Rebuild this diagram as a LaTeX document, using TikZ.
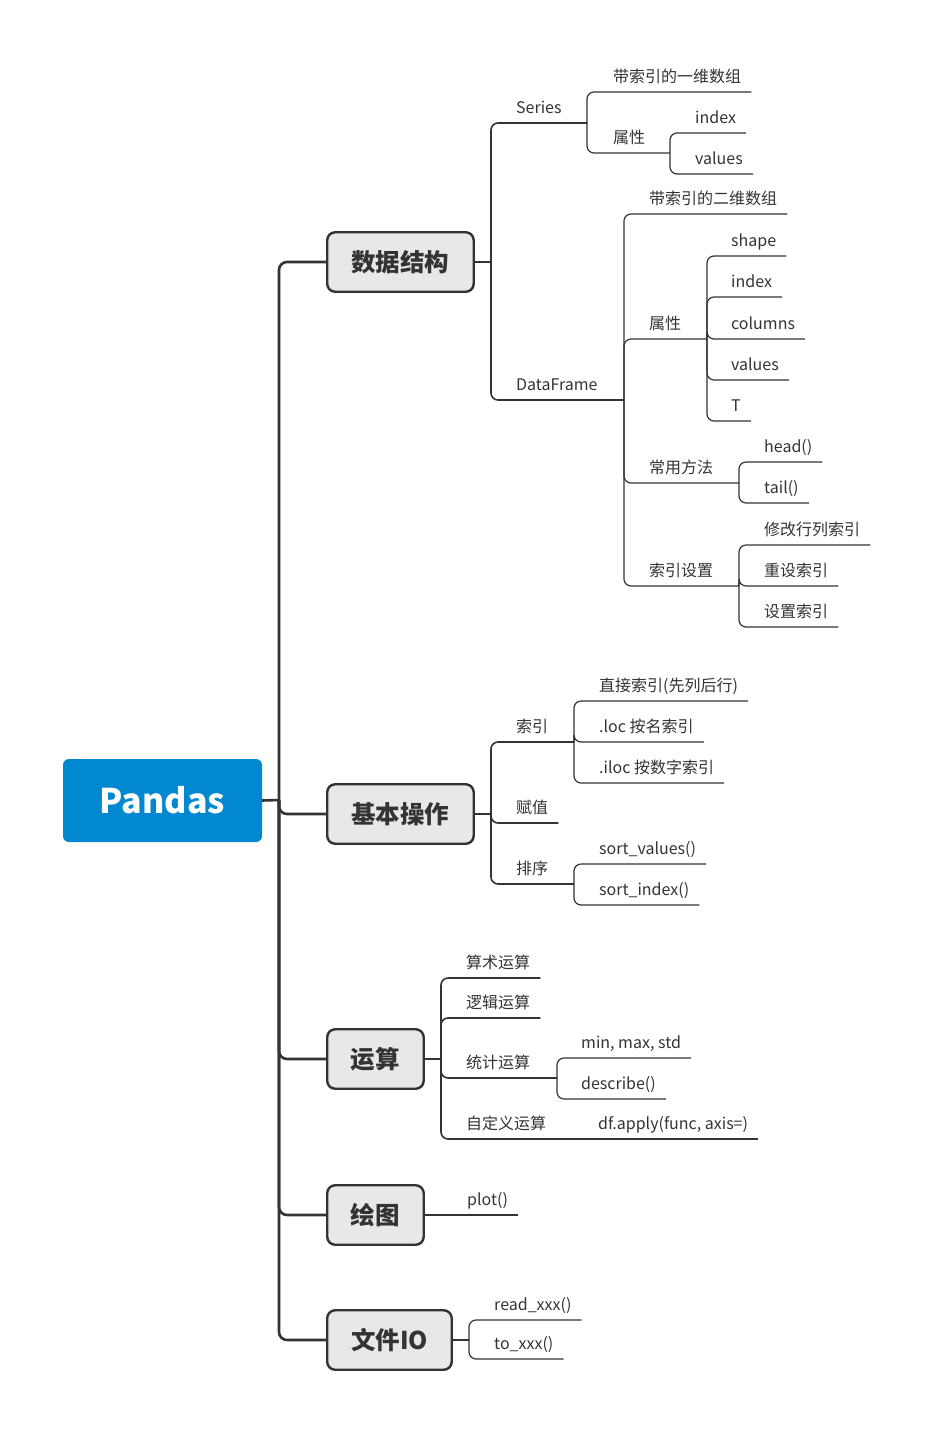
\documentclass[tikz,border=0pt]{standalone}
\usepackage{fontspec}
\setmainfont{Noto Sans CJK SC}
\definecolor{lineclr}{HTML}{333333}
\definecolor{boxfill}{HTML}{E8E8E8}
\definecolor{rootblue}{HTML}{0288D1}
\begin{document}
\begin{tikzpicture}[x=1pt, y=-1pt,
    rootbox/.style={fill=rootblue, rounded corners=6pt, minimum width=199pt, minimum height=83pt, text=white, font=\fontsize{34}{34}\selectfont\bfseries},
    topicbox/.style={draw=lineclr, line width=2.4pt, fill=boxfill, rounded corners=8pt, minimum height=59.5pt, anchor=west, text=lineclr, font=\fontsize{24.5}{24.5}\selectfont\bfseries},
    leaf/.style={anchor=south west, inner xsep=10pt, inner ysep=3pt, text height=12pt, text depth=6pt, text=lineclr, font=\fontsize{16}{16}\selectfont},
    trunk/.style={draw=lineclr, line width=2.6pt, rounded corners=8pt},
    branch/.style={draw=lineclr, line width=1.6pt, rounded corners=7pt},
    twig/.style={draw=lineclr, line width=1.2pt, rounded corners=7pt}]
    \useasboundingbox (0,0) rectangle (932,1433);

    \node[rootbox] (root) at (162.5,800.5){Pandas};
    \node[topicbox, minimum width=146.5pt] (ds) at (326,262){数据结构};
    \node[topicbox, minimum width=146.5pt] (op) at (326,814){基本操作};
    \node[topicbox, minimum width=96.5pt] (calc) at (326,1059){运算};
    \node[topicbox, minimum width=96.5pt] (plt) at (326,1215){绘图};
    \node[topicbox, minimum width=124.5pt] (fio) at (326,1340){文件IO};

    \coordinate (jroot) at (279,800);
    \coordinate (jds) at (491,262);
    \coordinate (jser) at (587,123);
    \coordinate (jserattr) at (670,153);
    \coordinate (jdf) at (624,400);
    \coordinate (jdfattr) at (707,339);
    \coordinate (jdfmeth) at (739,483);
    \coordinate (jdfidx) at (739,586);
    \coordinate (jop) at (491,814);
    \coordinate (jopidx) at (574,742);
    \coordinate (jopsort) at (574,884);
    \coordinate (jcalc) at (441,1059);
    \coordinate (jstat) at (557,1078);
    \coordinate (jcustom) at (573,1139);
    \coordinate (jplt) at (442,1215);
    \coordinate (jfio) at (469,1340);

    \node[leaf] (ser) at (506,123){Series};
    \node[leaf] (serdesc) at (603,92){带索引的一维数组};
    \node[leaf] (serattr) at (603,153){属性};
    \node[leaf] (serindex) at (685,133){index};
    \node[leaf] (servalues) at (685,174){values};
    \node[leaf] (df) at (506,400){DataFrame};
    \node[leaf] (dfdesc) at (639,214){带索引的二维数组};
    \node[leaf] (dfattr) at (639,339){属性};
    \node[leaf] (dfshape) at (721,256){shape};
    \node[leaf] (dfindex) at (721,297){index};
    \node[leaf] (dfcols) at (721,339){columns};
    \node[leaf] (dfvals) at (721,380){values};
    \node[leaf] (dfT) at (721,421){T};
    \node[leaf] (dfmeth) at (639,483){常用方法};
    \node[leaf] (dfhead) at (754,462){head()};
    \node[leaf] (dftail) at (754,503){tail()};
    \node[leaf] (dfidx) at (639,586){索引设置};
    \node[leaf] (dfren) at (754,545){修改行列索引};
    \node[leaf] (dfreset) at (754,586){重设索引};
    \node[leaf] (dfset) at (754,627){设置索引};

    \node[leaf] (opidx) at (506,742){索引};
    \node[leaf] (opassign) at (506,823){赋值};
    \node[leaf] (opsort) at (506,884){排序};
    \node[leaf] (idxdirect) at (589,701){直接索引(先列后行)};
    \node[leaf] (idxloc) at (589,742){.loc 按名索引};
    \node[leaf] (idxiloc) at (589,783){.iloc 按数字索引};
    \node[leaf] (sortval) at (589,864){sort\_values()};
    \node[leaf] (sortidx) at (589,905){sort\_index()};

    \node[leaf] (arith) at (456,978){算术运算};
    \node[leaf] (logic) at (456,1018){逻辑运算};
    \node[leaf] (stat) at (456,1078){统计运算};
    \node[leaf] (custom) at (456,1139){自定义运算};
    \node[leaf] (statmin) at (571,1058){min, max, std};
    \node[leaf] (statdesc) at (571,1099){describe()};
    \node[leaf] (apply) at (588,1139){df.apply(func, axis=)};

    \node[leaf] (plot) at (457,1215){plot()};

    \node[leaf] (readx) at (484,1320){read\_xxx()};
    \node[leaf] (tox) at (484,1359){to\_xxx()};

    \draw[trunk] (root.east) -- (jroot);
    \foreach \t in {ds,op,calc,plt,fio}
        \draw[trunk] (jroot) |- (\t.west);

    \draw[branch] (ds.east) -- (jds);
    \draw[branch] (jds) |- (jser);
    \draw[branch] (jds) |- (jdf);
    \draw[twig] (jser) |- (serdesc.south east);
    \draw[twig] (jser) |- (jserattr);
    \draw[twig] (jserattr) |- (serindex.south east);
    \draw[twig] (jserattr) |- (servalues.south east);
    \draw[twig] (jdf) |- (dfdesc.south east);
    \draw[twig] (jdf) |- (jdfattr);
    \draw[twig] (jdf) |- (jdfmeth);
    \draw[twig] (jdf) |- (jdfidx);
    \foreach \n in {dfshape,dfindex,dfcols,dfvals,dfT}
        \draw[twig] (jdfattr) |- (\n.south east);
    \foreach \n in {dfhead,dftail}
        \draw[twig] (jdfmeth) |- (\n.south east);
    \foreach \n in {dfren,dfreset,dfset}
        \draw[twig] (jdfidx) |- (\n.south east);

    \draw[branch] (op.east) -- (jop);
    \draw[branch] (jop) |- (jopidx);
    \draw[branch] (jop) |- (opassign.south east);
    \draw[branch] (jop) |- (jopsort);
    \foreach \n in {idxdirect,idxloc,idxiloc}
        \draw[twig] (jopidx) |- (\n.south east);
    \foreach \n in {sortval,sortidx}
        \draw[twig] (jopsort) |- (\n.south east);

    \draw[branch] (calc.east) -- (jcalc);
    \draw[branch] (jcalc) |- (arith.south east);
    \draw[branch] (jcalc) |- (logic.south east);
    \draw[branch] (jcalc) |- (jstat);
    \draw[branch] (jcalc) |- (jcustom);
    \foreach \n in {statmin,statdesc}
        \draw[twig] (jstat) |- (\n.south east);
    \draw[twig] (jcustom) -- (apply.south east);

    \draw[branch] (plt.east) -- (jplt) -- (plot.south east);

    \draw[branch] (fio.east) -- (jfio);
    \draw[twig] (jfio) |- (readx.south east);
    \draw[twig] (jfio) |- (tox.south east);
\end{tikzpicture}
\end{document}
